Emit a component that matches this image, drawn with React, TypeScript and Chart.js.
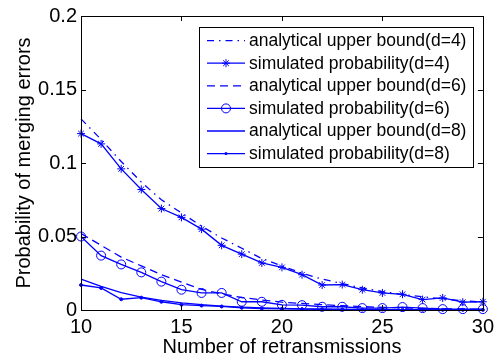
import React, { useEffect, useRef } from "react";
import { Chart, registerables } from "chart.js";

Chart.register(...registerables);

// Number of retransmissions (x axis)
const retransmissions = [10, 11, 12, 13, 14, 15, 16, 17, 18, 19, 20, 21, 22, 23, 24, 25, 26, 27, 28, 29, 30];

// Probability of merging errors per series
const analyticalD4 = [0.130, 0.116, 0.101, 0.087, 0.075, 0.066, 0.057, 0.049, 0.042, 0.035, 0.030, 0.025, 0.021, 0.018, 0.015, 0.0125, 0.0105, 0.009, 0.0075, 0.0063, 0.0053];
const simulatedD4 = [0.120, 0.113, 0.096, 0.082, 0.069, 0.063, 0.055, 0.044, 0.038, 0.032, 0.029, 0.024, 0.017, 0.0173, 0.0138, 0.0116, 0.0107, 0.0071, 0.0082, 0.0053, 0.0056];
const analyticalD6 = [0.052, 0.044, 0.036, 0.030, 0.024, 0.019, 0.014, 0.011, 0.0085, 0.0068, 0.0053, 0.0045, 0.0036, 0.0029, 0.0023, 0.0018, 0.0014, 0.0011, 0.0009, 0.0007, 0.0005];
const simulatedD6 = [0.050, 0.037, 0.031, 0.0256, 0.0193, 0.0138, 0.0116, 0.0116, 0.0056, 0.0056, 0.0035, 0.0033, 0.0022, 0.0022, 0.0013, 0.0013, 0.002, 0.0013, 0.0006, 0.0006, 0.0006];
const analyticalD8 = [0.021, 0.016, 0.0118, 0.0088, 0.0066, 0.0049, 0.0036, 0.0027, 0.002, 0.0015, 0.0011, 0.0008, 0.0006, 0.00045, 0.00034, 0.00025, 0.00019, 0.00014, 0.0001, 0.00008, 0.00006];
const simulatedD8 = [0.017, 0.015, 0.0073, 0.0084, 0.0056, 0.0036, 0.003, 0.0024, 0.0015, 0.001, 0.0008, 0.0006, 0.0005, 0.0004, 0.0003, 0.0003, 0.0002, 0.0002, 0.0001, 0.0001, 0.0001];

const seriesLabels = [
  "analytical upper bound(d=4)",
  "simulated probability(d=4)",
  "analytical upper bound(d=6)",
  "simulated probability(d=6)",
  "analytical upper bound(d=8)",
  "simulated probability(d=8)",
];

const xTicks = [10, 15, 20, 25, 30];
const xTickLabels = ["10", "15", "20", "25", "30"];
const yTicks = [0, 0.05, 0.1, 0.15, 0.2];
const yTickLabels = ["0", "0.05", "0.1", "0.15", "0.2"];

const xTitle = "Number of retransmissions";
const yTitle = "Probability of merging errors";

const BLUE = "#0000ff";
const LINE_WIDTH = 1.3;
const FONT = "'Liberation Sans', Arial, Helvetica, sans-serif";

type Marker = "none" | "star" | "circle" | "dot";

function toPoints(values: number[]) {
  return retransmissions.map((x, i) => ({ x, y: values[i] }));
}

function drawMarker(ctx: CanvasRenderingContext2D, kind: Marker, x: number, y: number) {
  ctx.save();
  ctx.setLineDash([]);
  ctx.strokeStyle = BLUE;
  ctx.fillStyle = BLUE;
  ctx.lineWidth = 1;
  if (kind === "star") {
    const r = 4;
    const d = r * Math.SQRT1_2;
    ctx.beginPath();
    ctx.moveTo(x - r, y); ctx.lineTo(x + r, y);
    ctx.moveTo(x, y - r); ctx.lineTo(x, y + r);
    ctx.moveTo(x - d, y - d); ctx.lineTo(x + d, y + d);
    ctx.moveTo(x - d, y + d); ctx.lineTo(x + d, y - d);
    ctx.stroke();
  } else if (kind === "circle") {
    ctx.beginPath();
    ctx.arc(x, y, 4.5, 0, Math.PI * 2);
    ctx.stroke();
  } else if (kind === "dot") {
    ctx.beginPath();
    ctx.arc(x, y, 1.5, 0, Math.PI * 2);
    ctx.fill();
  }
  ctx.restore();
}

const seriesStyles: { dash: number[]; marker: Marker }[] = [
  { dash: [7, 5, 1.5, 5], marker: "none" },
  { dash: [], marker: "star" },
  { dash: [8, 5], marker: "none" },
  { dash: [], marker: "circle" },
  { dash: [], marker: "none" },
  { dash: [], marker: "dot" },
];

// Box around the plot with inward tick marks, plus the boxed legend.
const axesBoxPlugin = {
  id: "axesBox",
  afterDatasetsDraw(chart: any) {
    const { ctx, chartArea } = chart;
    const { left, right, top, bottom } = chartArea;
    const xs = chart.scales.x;
    const ys = chart.scales.y;
    const tl = 5;
    ctx.save();
    ctx.strokeStyle = "#000";
    ctx.lineWidth = 1;
    ctx.setLineDash([]);
    ctx.beginPath();
    ctx.rect(Math.round(left) + 0.5, Math.round(top) + 0.5, Math.round(right - left), Math.round(bottom - top));
    ctx.stroke();
    ctx.beginPath();
    for (const v of xTicks) {
      const px = Math.round(xs.getPixelForValue(v)) + 0.5;
      ctx.moveTo(px, bottom); ctx.lineTo(px, bottom - tl);
      ctx.moveTo(px, top); ctx.lineTo(px, top + tl);
    }
    for (const v of yTicks) {
      const py = Math.round(ys.getPixelForValue(v)) + 0.5;
      ctx.moveTo(left, py); ctx.lineTo(left + tl, py);
      ctx.moveTo(right, py); ctx.lineTo(right - tl, py);
    }
    ctx.stroke();

    // Legend
    const bx0 = 199.5, by0 = 27.5, bx1 = 473.5, by1 = 167.5;
    ctx.fillStyle = "#fff";
    ctx.fillRect(bx0, by0, bx1 - bx0, by1 - by0);
    ctx.strokeStyle = "#000";
    ctx.strokeRect(bx0, by0, bx1 - bx0, by1 - by0);
    const rowY0 = 40.6;
    const rowGap = 22.6;
    ctx.font = `17.5px ${FONT}`;
    ctx.textBaseline = "middle";
    ctx.textAlign = "left";
    seriesLabels.forEach((label, i) => {
      const y = rowY0 + i * rowGap;
      const st = seriesStyles[i];
      ctx.save();
      ctx.strokeStyle = BLUE;
      ctx.lineWidth = LINE_WIDTH;
      ctx.setLineDash(st.dash);
      ctx.beginPath();
      ctx.moveTo(207, y);
      ctx.lineTo(245, y);
      ctx.stroke();
      ctx.restore();
      drawMarker(ctx, st.marker, 226, y);
      ctx.fillStyle = "#000";
      ctx.fillText(label, 249, y + 0.5);
    });
    ctx.restore();
  },
};

export default function App() {
  const canvasRef = useRef<HTMLCanvasElement | null>(null);

  useEffect(() => {
    const canvas = canvasRef.current;
    if (!canvas) return;
    const seriesValues = [analyticalD4, simulatedD4, analyticalD6, simulatedD6, analyticalD8, simulatedD8];
    const datasets = seriesValues.map((values, i) => {
      const st = seriesStyles[i];
      const pointStyle = st.marker === "star" ? "star" : "circle";
      const radius = st.marker === "star" ? 4 : st.marker === "circle" ? 4.5 : st.marker === "dot" ? 1.5 : 0;
      return {
        label: seriesLabels[i],
        data: toPoints(values),
        borderColor: BLUE,
        borderWidth: LINE_WIDTH,
        borderDash: st.dash,
        pointStyle,
        pointRadius: radius,
        pointHoverRadius: radius,
        pointBorderColor: BLUE,
        pointBorderWidth: 1,
        pointBackgroundColor: st.marker === "dot" ? BLUE : "rgba(0,0,0,0)",
        fill: false,
        tension: 0,
        clip: false as any,
      };
    });

    const chart = new Chart(canvas, {
      type: "line",
      data: { datasets },
      options: {
        animation: false,
        responsive: false,
        maintainAspectRatio: false,
        devicePixelRatio: 1,
        layout: { padding: { top: 10, right: 11, left: 0, bottom: 0 } },
        plugins: {
          legend: { display: false },
          tooltip: { enabled: false },
        },
        scales: {
          x: {
            type: "linear",
            min: 10,
            max: 30,
            afterBuildTicks: (s: any) => {
              s.ticks = xTicks.map((v) => ({ value: v }));
            },
            afterFit: (s: any) => {
              s.height = 50;
            },
            grid: { display: false, drawTicks: false },
            border: { display: false },
            ticks: {
              color: "#000",
              font: { family: FONT, size: 20 },
              padding: 5,
              maxRotation: 0,
              autoSkip: false,
              callback: (_v: any, i: number) => xTickLabels[i],
            },
            title: {
              display: true,
              text: xTitle,
              color: "#000",
              font: { family: FONT, size: 20 },
              padding: { top: 0, bottom: 1 },
            },
          },
          y: {
            type: "linear",
            min: 0,
            max: 0.2,
            afterBuildTicks: (s: any) => {
              s.ticks = yTicks.map((v) => ({ value: v }));
            },
            afterFit: (s: any) => {
              s.width = 81;
            },
            grid: { display: false, drawTicks: false },
            border: { display: false },
            ticks: {
              color: "#000",
              font: { family: FONT, size: 20 },
              padding: 4,
              autoSkip: false,
              callback: (_v: any, i: number) => yTickLabels[i],
            },
            title: {
              display: true,
              text: yTitle,
              color: "#000",
              font: { family: FONT, size: 20 },
              padding: { top: 12, bottom: 0 },
            },
          },
        },
      },
      plugins: [axesBoxPlugin],
    });

    return () => {
      chart.destroy();
    };
  }, []);

  return (
    <div style={{ position: "absolute", left: 0, top: 0, width: 499, height: 360, background: "#fff" }}>
      <canvas ref={canvasRef} width={499} height={360} style={{ width: 499, height: 360, display: "block" }} />
    </div>
  );
}
